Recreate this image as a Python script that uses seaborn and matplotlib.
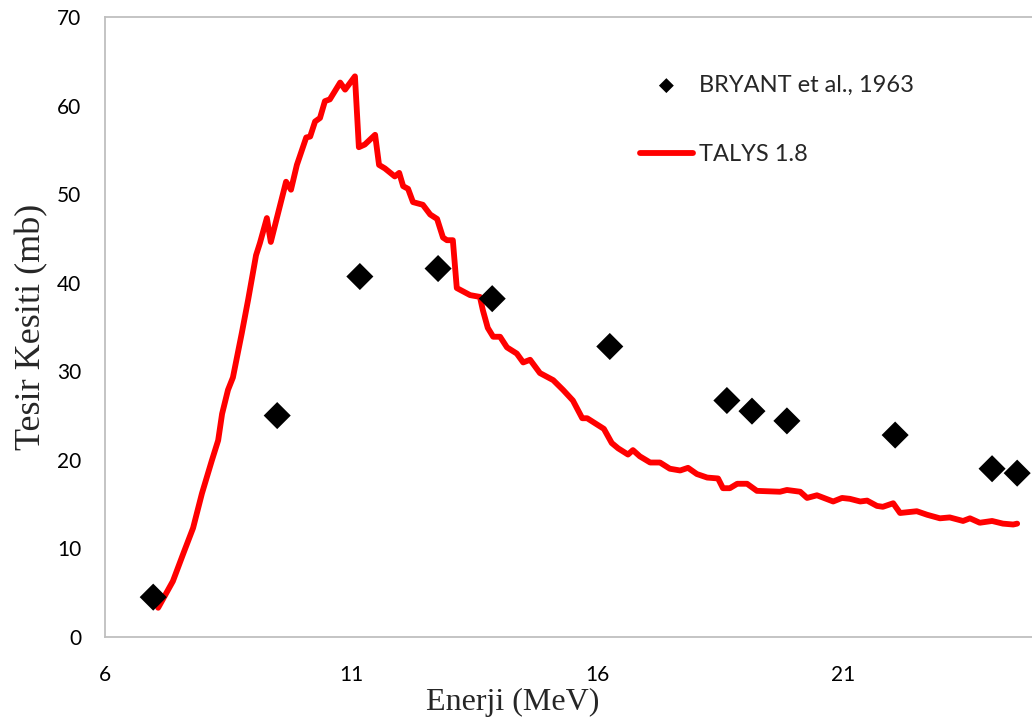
import matplotlib
matplotlib.use("Agg")
import matplotlib.pyplot as plt
import seaborn as sns
import pandas as pd

# BRYANT et al., 1963 experimental points
bryant_energy = [6.98, 9.50, 11.18, 12.77, 13.87, 16.26, 18.64, 19.15, 19.86, 22.06, 24.03, 24.54]
bryant_xs = [4.5, 25.0, 40.7, 41.6, 38.2, 32.8, 26.7, 25.5, 24.4, 22.8, 19.0, 18.5]

# TALYS 1.8 calculation
talys_energy = [7.08, 7.38, 7.59, 7.79, 7.97, 8.17, 8.30, 8.38, 8.50, 8.60, 8.78, 8.91,
                9.07, 9.15, 9.29, 9.37, 9.52, 9.68, 9.78, 9.90, 10.09, 10.17, 10.27, 10.37,
                10.47, 10.57, 10.78, 10.88, 11.08, 11.16, 11.28, 11.49, 11.57, 11.69, 11.89,
                11.98, 12.06, 12.16, 12.26, 12.46, 12.61, 12.75, 12.87, 12.95, 13.07, 13.15,
                13.42, 13.62, 13.68, 13.78, 13.89, 14.03, 14.17, 14.37, 14.50, 14.64, 14.84,
                15.11, 15.31, 15.51, 15.70, 15.80, 16.14, 16.30, 16.43, 16.63, 16.73, 16.87,
                17.08, 17.28, 17.48, 17.69, 17.85, 18.03, 18.24, 18.46, 18.56, 18.70, 18.85,
                19.05, 19.25, 19.72, 19.86, 20.13, 20.27, 20.47, 20.80, 20.98, 21.14, 21.35,
                21.49, 21.69, 21.81, 22.02, 22.16, 22.50, 22.71, 22.97, 23.17, 23.44, 23.58,
                23.78, 24.03, 24.25, 24.46, 24.54]
talys_xs = [3.3, 6.3, 9.4, 12.3, 16.2, 19.9, 22.2, 25.2, 27.9, 29.3, 34.3, 38.1,
            43.1, 44.5, 47.3, 44.6, 47.9, 51.4, 50.5, 53.3, 56.4, 56.5, 58.2, 58.6,
            60.5, 60.7, 62.6, 61.8, 63.3, 55.3, 55.6, 56.7, 53.3, 52.9, 52.0,
            52.4, 50.9, 50.6, 49.1, 48.8, 47.7, 47.2, 45.1, 44.8, 44.8, 39.4,
            38.6, 38.4, 36.9, 34.9, 33.9, 33.9, 32.7, 32.0, 31.0, 31.3, 29.8,
            29.0, 27.9, 26.7, 24.7, 24.7, 23.5, 21.9, 21.3, 20.6, 21.1, 20.4,
            19.7, 19.7, 19.0, 18.8, 19.1, 18.4, 18.0, 17.9, 16.8, 16.8, 17.3,
            17.3, 16.5, 16.4, 16.6, 16.4, 15.7, 16.0, 15.3, 15.7, 15.6, 15.3,
            15.4, 14.8, 14.7, 15.1, 14.0, 14.2, 13.8, 13.4, 13.5, 13.1, 13.4,
            12.9, 13.1, 12.8, 12.7, 12.8]

x_ticks = [6, 11, 16, 21]
y_ticks = [0, 10, 20, 30, 40, 50, 60, 70]

sns.set_theme(style="white")
plt.rcParams['font.family'] = ['Lato', 'DejaVu Sans']

fig = plt.figure(figsize=(10.32, 7.21), dpi=100)
W, H = 1032, 721
ax = fig.add_axes([105 / W, (H - 637) / H, 984 / W, 620 / H])

talys = pd.DataFrame({"E": talys_energy, "xs": talys_xs})
bryant = pd.DataFrame({"E": bryant_energy, "xs": bryant_xs})

sns.lineplot(data=talys, x="E", y="xs", ax=ax, color="#FF0000", linewidth=4.2,
             label="TALYS 1.8", solid_capstyle="round", solid_joinstyle="round", zorder=2)
sns.scatterplot(data=bryant, x="E", y="xs", ax=ax, marker="D", s=190, color="black",
                edgecolor="none", label="BRYANT et al., 1963", zorder=3)

ax.set_xlim(6, 26)
ax.set_ylim(0, 70)
ax.set_xticks(x_ticks)
ax.set_yticks(y_ticks)
ax.tick_params(axis="both", length=0, labelsize=15, colors="black")
ax.tick_params(axis="y", pad=17)
ax.tick_params(axis="x", pad=20)

for side in ["left", "top", "bottom", "right"]:
    ax.spines[side].set_color("#BFBFBF")
    ax.spines[side].set_linewidth(1.3)

ax.set_xlabel("Enerji (MeV)", fontsize=23, family=["Liberation Serif", "DejaVu Serif"])
ax.xaxis.set_label_coords((513 - 105) / 984, -(702 - 637) / 620)
ax.xaxis.label.set_va("center")
ax.set_ylabel("Tesir Kesiti (mb)", fontsize=26, family=["Liberation Serif", "DejaVu Serif"],
              labelpad=6)

handles, labels = ax.get_legend_handles_labels()
order = [labels.index("BRYANT et al., 1963"), labels.index("TALYS 1.8")]
leg = ax.legend([handles[i] for i in order], [labels[i] for i in order],
                loc="upper left", bbox_to_anchor=(628 / W, 1 - 63 / H),
                bbox_transform=fig.transFigure, frameon=False, fontsize=17,
                handlelength=2.25, handletextpad=0.25, labelspacing=2.05,
                borderpad=0, markerscale=0.55)

fig.savefig("out.png", dpi=100)
